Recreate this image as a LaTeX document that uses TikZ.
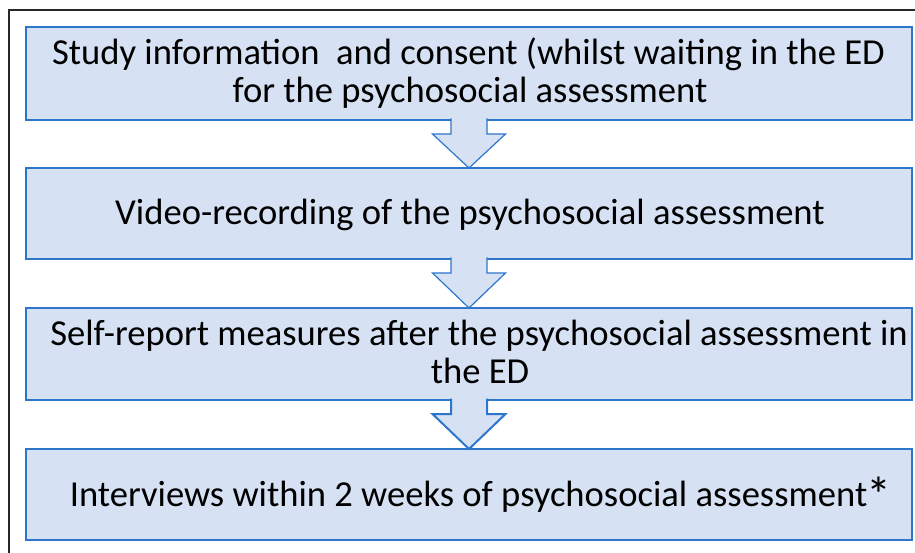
\documentclass[tikz,border=0pt]{standalone}
\usepackage{fontspec}
\setmainfont{Carlito}
\usetikzlibrary{calc}
\definecolor{boxline}{RGB}{46,117,204}
\definecolor{boxfill}{RGB}{214,226,243}
\definecolor{framecol}{RGB}{40,40,40}
\tikzset{
  stepbox/.style={draw=boxline, fill=boxfill, line width=1.2pt, minimum width=886pt, inner sep=0pt, outer sep=0pt},
  thickbox/.style={stepbox, line width=2pt},
  arr/.style={draw=boxline, fill=boxfill, line width=1.2pt, line join=miter},
  thickarr/.style={arr, line width=2pt},
  txt/.style={anchor=base, inner sep=0pt, font=\fontsize{36.6}{38}\selectfont}
}
\begin{document}
\begin{tikzpicture}[x=1pt,y=-1pt]
\useasboundingbox (0,0) rectangle (915,553);
\draw[framecol, line width=1.5pt] (9,553) -- (9,10) -- (915,10);
\node[stepbox, minimum height=93pt] (b1) at (469,73.5) {};
\node[stepbox, minimum height=91pt] (b2) at (469,213.5) {};
\node[thickbox, minimum height=92pt] (b3) at (469,354) {};
\node[thickbox, minimum height=91pt] (b4) at (469,494.5) {};
\foreach \a/\b/\s in {b1/b2/arr, b2/b3/arr, b3/b4/thickarr}{
  \draw[\s] ($(\a.south)+(-18,-1.5)$) -- ($(\a.south)+(-18,14)$) -- ($(\a.south)+(-36.5,14)$) -- (\b.north) -- ($(\a.south)+(36.5,14)$) -- ($(\a.south)+(18,14)$) -- ($(\a.south)+(18,-1.5)$);
}
\node[txt] (t1a) at (468.5,65) {Study information\ \ and consent (whilst waiting in the ED};
\node[txt] (t1b) at (470,103) {for the psychosocial assessment};
\node[txt] (t2) at (470,225) {Video-recording of the psychosocial assessment};
\node[txt] (t3a) at (479,345.5) {Self-report measures after the psychosocial assessment in};
\node[txt] (t3b) at (480,383.5) {the ED};
\node[txt] (t4) at (480.5,506) {Interviews within 2 weeks of psychosocial assessment\hspace{-1pt}\raisebox{-6pt}{\fontsize{50}{50}\selectfont *}};
\end{tikzpicture}
\end{document}
